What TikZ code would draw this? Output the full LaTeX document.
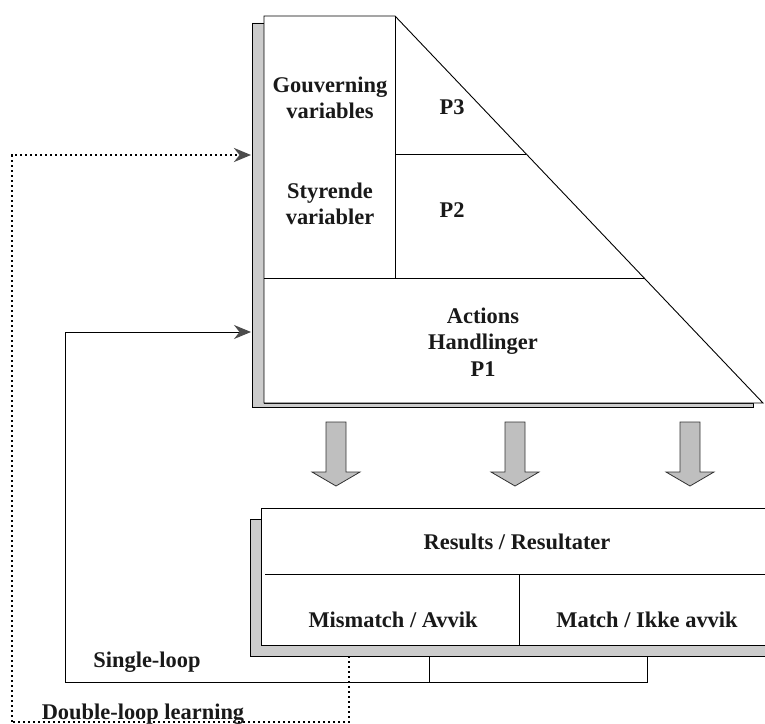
\documentclass[tikz,border=0pt]{standalone}
\usepackage{fontspec}
\setmainfont{Liberation Serif}
\usetikzlibrary{positioning, arrows.meta}

\begin{document}
\begin{tikzpicture}[x=1bp, y=-1bp, >=Stealth,
  line width=0.9bp,
  lbl/.style={font=\fontsize{22.5}{26.5}\selectfont\bfseries, text=black!90, align=center, inner sep=0pt},
  shadowstrip/.style={fill=gray!40, draw=black, line width=0.7bp},
  blockarrow/.style={fill=gray!50, draw=black!80, line width=0.8bp},
  loopline/.style={draw=black, line width=1bp},
  dbloop/.style={draw=black, line width=2.8bp, dash pattern=on 2.4bp off 2.6bp},
  feedtip/.style={-{Stealth[length=17bp, width=14bp, color=black!70]}}]

\useasboundingbox (0,0) rectangle (765,724);

% --- Values / actions block ---
\coordinate (ptop-l) at (264,16);
\coordinate (ptop-r) at (395,16);
\coordinate (pbot-r) at (763,403);
\coordinate (pbot-l) at (264,403);
\draw[shadowstrip] (252,23) -- (264,23) -- (264,403) -- (753,403) -- (753,407) -- (252,407) -- cycle;
\draw[fill=white] (ptop-l) -- (ptop-r) -- (pbot-r) -- (pbot-l) -- cycle;
\draw (ptop-r) -- (395,278);
\draw (264,278) -- (645,278);
\draw (395,154) -- (526,154);

\node[lbl] (gov) at (330,98) {Gouverning\\variables};
\node[lbl] (p3) at (452,107) {P3};
\node[lbl] (styr) at (330,204) {Styrende\\variabler};
\node[lbl] (p2) at (452,210) {P2};
\node[lbl] (act) at (483,342) {Actions\\Handlinger\\P1};

% --- Block arrows ---
\foreach \x in {336,515,690} {
  \draw[blockarrow] (\x-10,422) -- (\x+10,422) -- (\x+10,472) -- (\x+24,472)
    -- (\x,486) -- (\x-24,472) -- (\x-10,472) -- cycle;
}

% --- Results block ---
\draw[shadowstrip] (250,519) -- (261,519) -- (261,645) -- (765,645) -- (765,656) -- (250,656) -- cycle;
\draw[fill=white, draw=none] (261,508) rectangle (765,645);
\draw (765,508) -- (261,508) -- (261,645) -- (765,645);
\draw (265,574) -- (765,574);
\draw (519,574) -- (519,645);

\node[lbl] (res) at (517,542) {Results / Resultater};
\node[lbl] (mis) at (393,620) {Mismatch / Avvik};
\node[lbl] (match) at (647,620) {Match / Ikke avvik};

% --- Loops ---
\coordinate (sl-in) at (251,332);
\coordinate (dl-in) at (251,155);
\coordinate (res-mis) at (429,656);
\coordinate (res-match) at (647,656);
\coordinate (res-dl) at (349,656);
\coordinate (sl-corner) at (65,682);
\coordinate (dl-corner) at (12,722);

\draw[loopline] (res-mis) -- (res-mis |- sl-corner);
\draw[loopline] (res-match) |- (sl-corner);
\draw[loopline, feedtip] (sl-corner) |- (sl-in);

\draw[dbloop] (res-dl) |- (dl-corner);
\draw[dbloop, feedtip] (dl-corner) |- (dl-in);

\node[lbl] (single) at (147,662) {Single-loop};
\node[lbl, anchor=base] (double) at (143,719) {Double-loop learning};

\end{tikzpicture}
\end{document}
